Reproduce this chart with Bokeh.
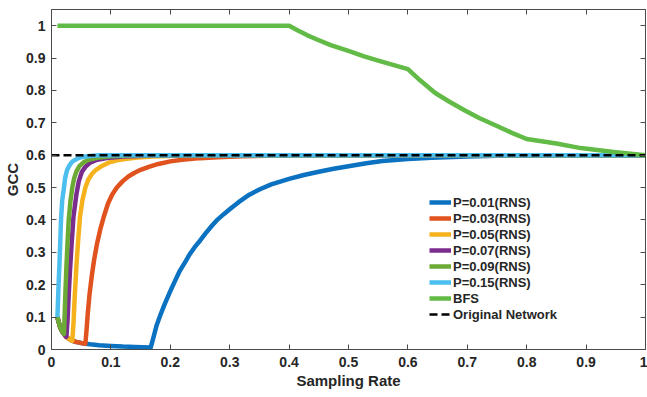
from bokeh.plotting import figure
from bokeh.models import Range1d, LinearAxis, FixedTicker, Legend, LegendItem
from bokeh.embed import file_html
from bokeh.resources import INLINE

# ---------------- data ----------------
x_p001 = [0.01, 0.012, 0.014, 0.016, 0.018, 0.02, 0.0225, 0.025, 0.0275, 0.03, 0.035, 0.04, 0.045, 0.05,
          0.057, 0.065, 0.08, 0.1, 0.12, 0.14, 0.167,
          0.172, 0.177, 0.183, 0.19, 0.2, 0.208, 0.216, 0.225, 0.233, 0.241, 0.25,
          0.26, 0.27, 0.28, 0.29, 0.3, 0.315, 0.333, 0.35, 0.37, 0.4, 0.425, 0.45, 0.475, 0.5,
          0.53, 0.557, 0.6, 0.64, 0.7, 0.75, 0.85, 1.0]
y_p001 = [0.1, 0.085, 0.072, 0.063, 0.056, 0.05, 0.044, 0.039, 0.035, 0.032, 0.027, 0.024, 0.022, 0.02,
          0.018, 0.016, 0.013, 0.011, 0.009, 0.008, 0.006,
          0.04, 0.075, 0.105, 0.138, 0.18, 0.212, 0.243, 0.27, 0.295, 0.316, 0.336,
          0.36, 0.382, 0.402, 0.418, 0.433, 0.455, 0.478, 0.494, 0.51, 0.527, 0.539, 0.549, 0.558, 0.566,
          0.575, 0.582, 0.588, 0.592, 0.596, 0.598, 0.6, 0.6]

x_p003 = [0.01, 0.012, 0.014, 0.016, 0.018, 0.02, 0.0225, 0.025, 0.0275, 0.03, 0.035, 0.04, 0.045, 0.05,
          0.057, 0.059, 0.061, 0.064, 0.068, 0.072, 0.077, 0.082, 0.088, 0.095, 0.102, 0.11, 0.12,
          0.13, 0.14, 0.15, 0.165, 0.18, 0.2, 0.22, 0.25, 0.28, 0.32, 0.38, 0.5, 1.0]
y_p003 = [0.1, 0.085, 0.072, 0.063, 0.056, 0.05, 0.044, 0.039, 0.035, 0.032, 0.027, 0.024, 0.022, 0.02,
          0.018, 0.06, 0.11, 0.17, 0.23, 0.28, 0.33, 0.37, 0.41, 0.45, 0.478, 0.5, 0.52,
          0.535, 0.546, 0.555, 0.565, 0.573, 0.581, 0.586, 0.591, 0.594, 0.597, 0.599, 0.6, 0.6]

x_p005 = [0.01, 0.012, 0.014, 0.016, 0.018, 0.02, 0.0225, 0.025, 0.0275, 0.03, 0.035,
          0.037, 0.039, 0.042, 0.045, 0.048, 0.052, 0.057, 0.062, 0.068, 0.075, 0.085, 0.096, 0.11,
          0.127, 0.145, 0.17, 0.22, 0.4, 1.0]
y_p005 = [0.1, 0.085, 0.072, 0.063, 0.056, 0.05, 0.044, 0.039, 0.035, 0.032, 0.027,
          0.08, 0.16, 0.26, 0.34, 0.41, 0.46, 0.5, 0.525, 0.542, 0.555, 0.567, 0.577, 0.584,
          0.589, 0.593, 0.596, 0.599, 0.6, 0.6]

x_p007 = [0.01, 0.012, 0.014, 0.016, 0.018, 0.02, 0.0225, 0.025,
          0.027, 0.029, 0.031, 0.034, 0.037, 0.042, 0.046, 0.051, 0.057, 0.065, 0.075, 0.093, 0.12,
          0.17, 0.4, 1.0]
y_p007 = [0.1, 0.085, 0.072, 0.063, 0.056, 0.05, 0.044, 0.039,
          0.09, 0.17, 0.24, 0.33, 0.41, 0.48, 0.52, 0.548, 0.564, 0.577, 0.585, 0.591, 0.596,
          0.599, 0.6, 0.6]

x_p009 = [0.01, 0.012, 0.014, 0.016, 0.018, 0.021,
          0.022, 0.0235, 0.025, 0.027, 0.029, 0.032, 0.035, 0.038, 0.042, 0.047, 0.054, 0.063, 0.077,
          0.1, 0.14, 0.4, 1.0]
y_p009 = [0.1, 0.085, 0.072, 0.063, 0.056, 0.048,
          0.1, 0.18, 0.25, 0.33, 0.4, 0.46, 0.5, 0.528, 0.55, 0.566, 0.578, 0.586, 0.592,
          0.597, 0.6, 0.6, 0.6]

x_p015 = [0.01, 0.0115, 0.0134, 0.0147, 0.016, 0.018, 0.021, 0.023, 0.026, 0.03, 0.035, 0.043, 0.05,
          0.06, 0.08, 0.4, 1.0]
y_p015 = [0.1, 0.18, 0.265, 0.33, 0.4, 0.46, 0.5, 0.53, 0.553, 0.568, 0.58, 0.589, 0.594,
          0.597, 0.6, 0.6, 0.6]

x_bfs = [0.01, 0.4, 0.415, 0.43, 0.445, 0.47, 0.5, 0.525, 0.55, 0.575, 0.6, 0.62, 0.646, 0.67, 0.696,
         0.72, 0.749, 0.775, 0.8, 0.85, 0.891, 0.95, 1.0]
y_bfs = [1.0, 1.0, 0.985, 0.971, 0.959, 0.94, 0.922, 0.906, 0.892, 0.879, 0.866, 0.832, 0.792, 0.765, 0.738,
         0.715, 0.691, 0.669, 0.65, 0.636, 0.622, 0.609, 0.6]

x_orig = [0.0, 1.0]
y_orig = [0.6, 0.6]

x_ticks = [0, 0.1, 0.2, 0.3, 0.4, 0.5, 0.6, 0.7, 0.8, 0.9, 1]
x_tick_labels = ["0", "0.1", "0.2", "0.3", "0.4", "0.5", "0.6", "0.7", "0.8", "0.9", "1"]
y_ticks = [0, 0.1, 0.2, 0.3, 0.4, 0.5, 0.6, 0.7, 0.8, 0.9, 1]
y_tick_labels = ["0", "0.1", "0.2", "0.3", "0.4", "0.5", "0.6", "0.7", "0.8", "0.9", "1"]

series_labels = ["P=0.01(RNS)", "P=0.03(RNS)", "P=0.05(RNS)", "P=0.07(RNS)",
                 "P=0.09(RNS)", "P=0.15(RNS)", "BFS", "Original Network"]

# ---------------- figure ----------------
FONT = "Liberation Sans"
AX = "#4a4a4a"

p = figure(width=647, height=397, x_range=Range1d(0, 1), y_range=Range1d(0, 1.05),
           output_backend="svg", toolbar_location=None,
           min_border_left=51, min_border_right=2, min_border_top=9, min_border_bottom=48)
p.xgrid.visible = False
p.ygrid.visible = False
p.outline_line_color = None
p.background_fill_color = "white"

def style_axis(ax, ticks, labels, show_labels=True):
    ax.ticker = FixedTicker(ticks=ticks)
    ax.axis_line_color = AX
    ax.axis_line_width = 1
    ax.major_tick_line_color = AX
    ax.major_tick_in = 5
    ax.major_tick_out = 0
    ax.minor_tick_line_color = None
    ax.major_label_text_font = FONT
    ax.major_label_text_font_style = "bold"
    if show_labels:
        ax.major_label_overrides = {t: l for t, l in zip(ticks, labels)}
        ax.major_label_text_color = "#262626"
        ax.major_label_text_font_size = "14px"
    else:
        ax.major_label_text_color = None
        ax.major_label_text_alpha = 0
        ax.major_label_text_font_size = "0px"
        ax.major_label_standoff = 0

style_axis(p.xaxis[0], x_ticks, x_tick_labels)
style_axis(p.yaxis[0], y_ticks, y_tick_labels)
p.xaxis[0].major_label_standoff = 7
p.yaxis[0].major_label_standoff = 6

p.xaxis[0].axis_label = "Sampling Rate"
p.yaxis[0].axis_label = "GCC"
for ax in (p.xaxis[0], p.yaxis[0]):
    ax.axis_label_text_font = FONT
    ax.axis_label_text_font_style = "bold"
    ax.axis_label_text_font_size = "15px"
    ax.axis_label_text_color = "#262626"
p.xaxis[0].axis_label_standoff = 2
p.yaxis[0].axis_label_standoff = 2

top_ax = LinearAxis()
right_ax = LinearAxis()
style_axis(top_ax, x_ticks, x_tick_labels, show_labels=False)
style_axis(right_ax, y_ticks, y_tick_labels, show_labels=False)
p.add_layout(top_ax, "above")
p.add_layout(right_ax, "right")

# ---------------- lines ----------------
LW = 4.5
r1 = p.line(x_p001, y_p001, line_color="#0A72C0", line_width=LW, line_join="round")
r2 = p.line(x_p003, y_p003, line_color="#E0521E", line_width=LW, line_join="round")
r3 = p.line(x_p005, y_p005, line_color="#F5B21C", line_width=LW, line_join="round")
r4 = p.line(x_p007, y_p007, line_color="#7B2D8E", line_width=LW, line_join="round")
r5 = p.line(x_p009, y_p009, line_color="#6BAA35", line_width=LW, line_join="round")
r6 = p.line(x_p015, y_p015, line_color="#4DBFEF", line_width=LW, line_join="round")
r7 = p.line(x_bfs, y_bfs, line_color="#62BB46", line_width=LW, line_join="round")
r8 = p.line(x_orig, y_orig, line_color="black", line_width=2.6, line_dash="8 4")

renderers = [r1, r2, r3, r4, r5, r6, r7, r8]
legend = Legend(items=[LegendItem(label=l, renderers=[r]) for l, r in zip(series_labels, renderers)],
                location=(378, 27))
legend.background_fill_alpha = 0
legend.border_line_color = None
legend.padding = 0
legend.margin = 0
legend.spacing = 0
legend.glyph_width = 22
legend.glyph_height = 16
legend.label_height = 16
legend.label_standoff = 2
legend.label_text_font = FONT
legend.label_text_font_style = "bold"
legend.label_text_font_size = "13px"
legend.label_text_color = "#262626"
p.add_layout(legend, "center")

open("out.html", "w").write(file_html(p, INLINE))
